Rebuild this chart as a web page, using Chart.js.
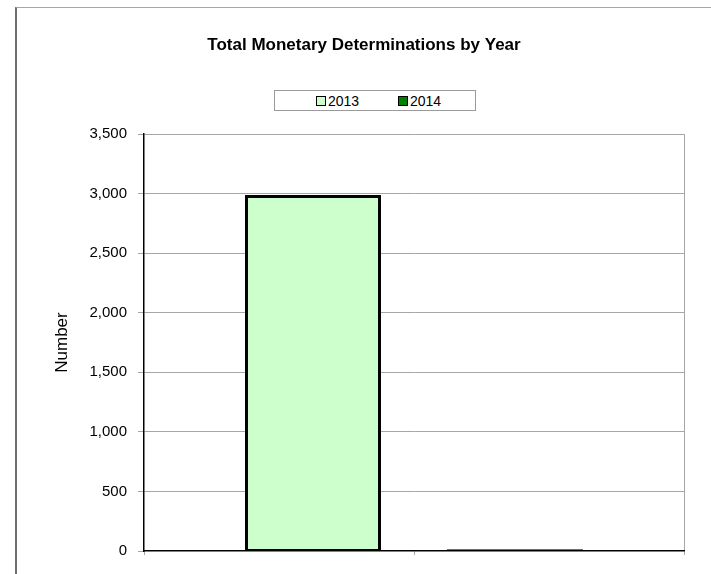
<!DOCTYPE html>
<html><head><meta charset="utf-8">
<script src="https://cdn.jsdelivr.net/npm/chart.js@4/dist/chart.umd.min.js"></script>
<style>
html,body{margin:0;padding:0;background:#fff;width:711px;height:574px;overflow:hidden;}
#frame{position:absolute;left:15px;top:7px;width:720px;height:590px;border-left:2px solid #6e6e6e;border-top:1px solid #a6a6a6;}
#c{position:absolute;left:0;top:0;}
#legend{position:absolute;left:257px;top:82px;width:202px;height:21px;box-sizing:border-box;border:1px solid #9a9a9a;background:#fff;font-family:"Liberation Sans",Arial,sans-serif;font-size:14px;color:#000;}
.item{position:absolute;top:0;height:100%;display:flex;align-items:center;white-space:nowrap;}
.sw{width:10px;height:10px;box-sizing:border-box;border:1.5px solid #000;margin-right:2px;}
</style></head>
<body>
<div id="frame">
  <canvas id="c" width="694" height="566"></canvas>
  <div id="legend"></div>
</div>
<script>
const categories = ['2013', '2014'];
const seriesNames = ['2013', '2014'];
const values2013 = [2975, null];
const values2014 = [null, 15];
const seriesColors = ['#CCFFCC', '#008000'];
const yMin = 0, yMax = 3500, yStep = 500;
const FONT = '"Liberation Sans", Arial, sans-serif';
const GRID = '#a6a6a6';

const chart = new Chart(document.getElementById('c'), {
  type: 'bar',
  data: {
    labels: categories,
    datasets: [
      { label: seriesNames[1], data: values2014, backgroundColor: seriesColors[1], borderColor: '#000', borderWidth: 3, borderSkipped: false, categoryPercentage: 0.5037, barPercentage: 2.0, inflateAmount: 0 },
      { label: seriesNames[0], data: values2013, backgroundColor: seriesColors[0], borderColor: '#000', borderWidth: 3, borderSkipped: false, categoryPercentage: 0.5037, barPercentage: 1.956, inflateAmount: 1.5 }
    ]
  },
  options: {
    responsive: false,
    animation: false,
    layout: { padding: 0 },
    plugins: {
      legend: { display: false },
      tooltip: { enabled: false },
      title: {
        display: true,
        text: 'Total Monetary Determinations by Year',
        color: '#000',
        font: { family: FONT, size: 17, weight: 'bold', lineHeight: 1.2 },
        padding: { top: 27.5, bottom: 78.1 }
      }
    },
    scales: {
      x: {
        type: 'category',
        offset: true,
        grid: {
          offset: true,
          drawOnChartArea: true,
          color: c => c.type === 'tick' ? 'rgba(0,0,0,0)' : GRID,
          tickColor: GRID,
          tickLength: 4,
          lineWidth: 1
        },
        border: { color: '#000', width: 1.5 },
        ticks: { display: false },
        afterFit(s) { s.height = 23; }
      },
      y: {
        min: yMin, max: yMax,
        ticks: {
          stepSize: yStep, color: '#000', padding: 11,
          font: { family: FONT, size: 15 },
          callback: v => v.toLocaleString('en-US')
        },
        grid: {
          color: c => (c.tick && c.tick.value === 0) ? 'rgba(0,0,0,0)' : GRID,
          tickColor: GRID,
          tickLength: 6,
          lineWidth: 1
        },
        border: { color: '#000', width: 1.5 },
        title: {
          display: true, text: 'Number', color: '#000',
          font: { family: FONT, size: 17, lineHeight: 1.2 },
          padding: { top: 35.5, bottom: 0 }
        },
        afterFit(s) { s.width = 127; }
      },
      yR: {
        position: 'right',
        display: true,
        grid: { display: false, drawTicks: false },
        border: { display: false },
        ticks: { display: false },
        afterFit(s) { s.width = 27; }
      }
    }
  }
});

// HTML legend built from the series
const legendEl = document.getElementById('legend');
const itemLefts = [41, 123];
seriesNames.forEach((name, i) => {
  const item = document.createElement('div');
  item.className = 'item';
  item.style.left = itemLefts[i] + 'px';
  const sw = document.createElement('span');
  sw.className = 'sw';
  sw.style.background = seriesColors[i];
  const t = document.createElement('span');
  t.textContent = name;
  item.appendChild(sw);
  item.appendChild(t);
  legendEl.appendChild(item);
});
</script>
</body></html>
